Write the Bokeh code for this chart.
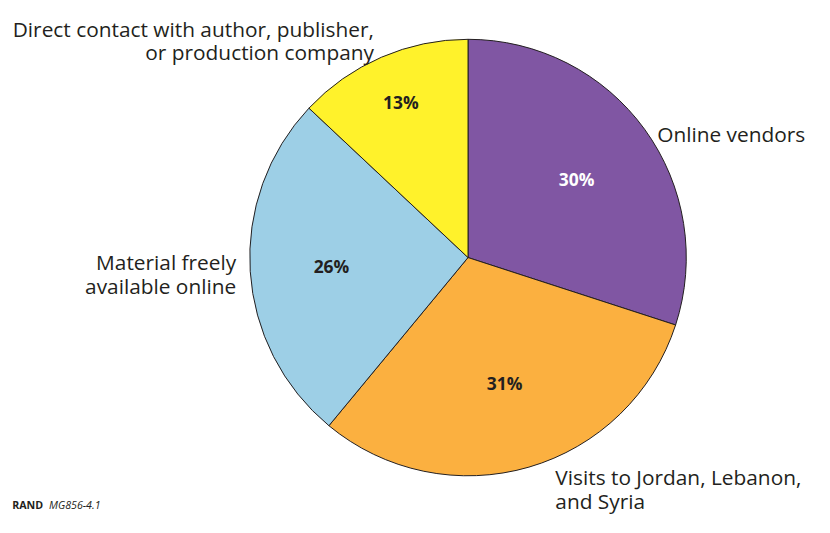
import math
from bokeh.plotting import figure
from bokeh.models import Range1d
from bokeh.core.properties import value
from bokeh.embed import file_html
from bokeh.resources import INLINE

categories = [["Online vendors"],
              ["Visits to Jordan, Lebanon,", "and Syria"],
              ["Material freely", "available online"],
              ["Direct contact with author, publisher,", "or production company"]]
shares = [30, 31, 26, 13]
pct_labels = ["30%", "31%", "26%", "13%"]
colors = ["#8056A3", "#FBB040", "#9DCFE6", "#FFF22B"]
pct_colors = ["white", "#231F20", "#231F20", "#231F20"]

# fit the 830x533 design into an 814x517 figure (page has 8px margin)
W, H = 814, 517
S = H / 533.0
p = figure(width=W, height=H, output_backend="svg", toolbar_location=None,
           x_range=Range1d(0, W / S), y_range=Range1d(0, 533),
           x_axis_location=None, y_axis_location=None,
           min_border=0)
p.grid.visible = False
p.outline_line_color = None

def Y(py):
    return 533 - py

def fs(px):
    return f"{px * S:.2f}px"

cx, cy, r = 482, Y(265), 225
total = sum(shares)
start = math.pi / 2
starts, ends, mids = [], [], []
for s in shares:
    span = s / total * 2 * math.pi
    end = start - span
    starts.append(end)
    ends.append(start)
    mids.append((start + end) / 2)
    start = end

p.wedge(x=[cx] * 4, y=[cy] * 4, radius=r, start_angle=starts, end_angle=ends,
        fill_color=colors, line_color="#231F20", line_width=1)

# percent labels
pct_r = [0.615, 0.60, 0.627, 0.775]
px = [cx + rr * r * math.cos(m) for rr, m in zip(pct_r, mids)]
py = [cy + rr * r * math.sin(m) for rr, m in zip(pct_r, mids)]
p.text(x=px, y=py, text=pct_labels, text_color=pct_colors,
       text_font=value("Open Sans"), text_font_style="bold",
       text_font_size=fs(18), text_align="center", text_baseline="middle")

# category labels (baseline of first line, in design pixels)
lab_x = [677, 572, 243, 385]
lab_base = [138, 491, 270, 29]
lab_align = ["left", "left", "right", "right"]
line_gap = 24.5
for lines, x, b, a in zip(categories, lab_x, lab_base, lab_align):
    for i, t in enumerate(lines):
        p.text(x=[x], y=[Y(b + i * line_gap)], text=[t], text_align=a,
               text_baseline="alphabetic",
               text_font=value("Open Sans"), text_font_size=fs(21.5),
               text_color="#231F20")

p.text(x=[12], y=[Y(520)], text=["RAND"], text_font=value("Open Sans"),
       text_font_style="bold", text_font_size=fs(11), text_color="#231F20",
       text_baseline="alphabetic")
p.text(x=[50], y=[Y(520)], text=["MG856-4.1"], text_font=value("Open Sans"),
       text_font_style="italic", text_font_size=fs(11), text_color="#231F20",
       text_baseline="alphabetic")

open("out.html", "w").write(file_html(p, INLINE))
